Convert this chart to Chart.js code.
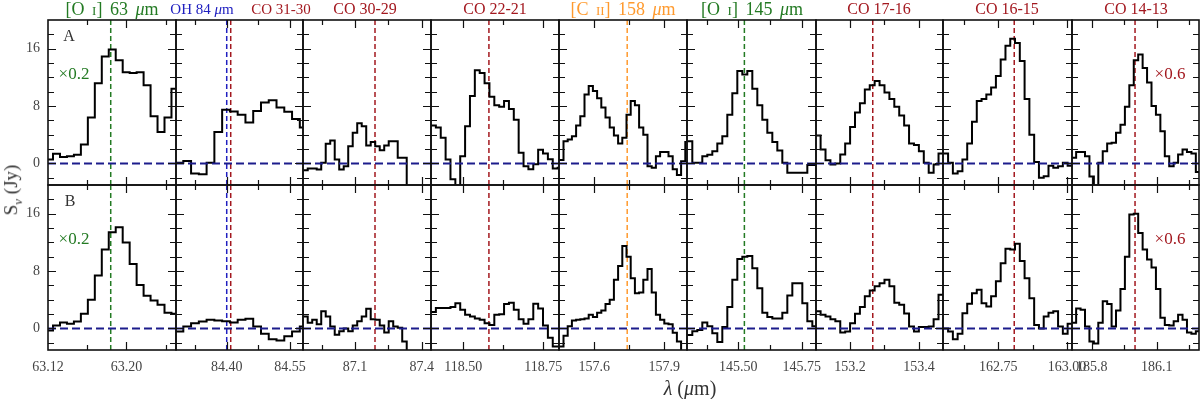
<!DOCTYPE html>
<html>
<head>
<meta charset="utf-8">
<script src="https://cdn.jsdelivr.net/npm/chart.js@4.4.1/dist/chart.umd.min.js"></script>
<style>
  body { margin: 0; background: #fff; }
  #fig { position: relative; width: 1200px; height: 399px; overflow: hidden;
         font-family: 'Liberation Serif', 'DejaVu Serif', serif; color: #333; }
  #fig canvas { position: absolute; }
  .lbl { position: absolute; transform: translate(-50%, -50%); white-space: nowrap; font-size: 16px; }
  .sc { font-variant: small-caps; }
  .wide { word-spacing: 3px; }
</style>
</head>
<body>
<div id="fig"></div>
<script>
// x range of each panel (micron)
const xMin = [63.12, 84.2798, 86.866, 118.399, 157.4487, 145.2975, 153.1014, 162.5488, 185.7091];
const xMax = [63.2506, 84.5808, 87.442, 118.799, 157.9973, 145.8067, 153.4697, 163.0182, 186.2952];

// spectral bins: first edge and width (micron)
const binStart = [63.118, 84.2787, 86.867, 118.399, 157.45, 145.2987, 153.1005, 162.5499, 185.7077];
const binWidth = [0.00711, 0.01841, 0.02025, 0.01522, 0.0180, 0.01974, 0.01425, 0.0174, 0.02046];

// tick marks and tick labels
const tickMajor = [[63.12, 63.20], [84.40, 84.55], [87.1, 87.4], [118.50, 118.75], [157.6, 157.9],
                   [145.50, 145.75], [153.2, 153.4], [162.75, 163.00], [185.8, 186.1]];
const tickLabels = [['63.12', '63.20'], ['84.40', '84.55'], ['87.1', '87.4'], ['118.50', '118.75'], ['157.6', '157.9'],
                    ['145.50', '145.75'], ['153.2', '153.4'], ['162.75', '163.00'], ['185.8', '186.1']];
const tickMinor = [[63.16, 63.24], [84.325, 84.475], [86.95, 87.25], [118.625], [157.75],
                   [145.375, 145.625], [153.3], [162.625, 162.875], [185.95, 186.25]];
const yLabelTicks = [0, 8, 16];
const yAllTicks = [-2, 0, 2, 4, 6, 8, 10, 12, 14, 16, 18];

// flux density (Jy), region A
const fluxA = [
  [0.56, 1.35, 0.9, 1.0, 1.2, 2.65, 6.4, 11.2, 14.9, 15.9, 14.4, 12.7, 12.6, 12.7, 10.9, 6.6, 4.4, 6.4, 10.4],
  [0.1, 0.33, -1.4, -1.5, 0.1, 4.4, 7.5, 7.26, 6.8, 5.7, 7.3, 8.5, 8.8, 7.8, 7.2, 6.2, 5.0],
  [-0.93, -0.7, -0.7, -0.84, 0.1, 2.74, 3.2, 0.56, -0.84, -0.37, 2.4, 4.3, 5.6, 5.2, 2.5, 3.0, 2.4, 1.86, 2.5, 3.1, 3.1, 0.8, 0.8, -4, -4, -4, -4, -4, -4],
  [5.3, 5.0, 3.6, 0.56, -2.2, -3.5, 1.0, 5.2, 9.4, 13.0, 12.6, 11.2, 9.3, 8.1, 7.9, 8.7, 7.6, 6.1, 1.5, -0.4, -0.8, -0.1, 1.9, 1.4, 0.6, -0.7, -0.6],
  [0.5, 3.1, 3.35, 3.8, 5.3, 6.6, 9.6, 10.8, 10.1, 9.1, 7.8, 6.4, 5.0, 3.9, 2.8, 3.6, 6.8, 8.7, 8.1, 5.0, 4.0, -0.4, -0.6, 1.0, 1.6, 1.6, 1.0, -0.8, -1.6, 0.3, 3.0],
  [3.1, 0.1, 0.1, 1.0, 1.2, 1.7, 2.8, 3.8, 6.8, 9.8, 12.9, 12.4, 12.9, 10.4, 8.1, 6.1, 4.3, 3.0, 1.8, 0.1, -1.3, -1.3, -1.3, -1.3, -0.2, -0.2],
  [3.9, 1.95, 0.46, -0.14, 0.0, 1.25, 2.8, 5.1, 7.1, 8.4, 10.3, 10.9, 11.5, 10.9, 9.9, 9.0, 7.9, 6.7, 5.3, 2.8, 2.56, 1.7, 0.1, -1.3, -0.14, 1.4],
  [1.4, 0.1, -1.4, -1.07, 0.56, 2.8, 5.8, 8.7, 9.0, 9.6, 10.6, 12.2, 14.5, 16.4, 17.4, 16.8, 14.3, 9.0, 4.0, 0.2, -2.0, -1.77, -0.3, -0.6, -0.37, 0.1, -0.3],
  [0.8, 1.6, 1.6, 1.0, -1.8, -3.2, 0.1, 1.7, 2.8, 2.9, 4.3, 5.4, 7.9, 10.9, 14.4, 15.2, 13.3, 11.3, 8.0, 6.8, 4.5, 1.0, -0.37, 0.1, 1.25, 1.95, 1.6, 1.4, -1.2]
];

// flux density (Jy), region B
const fluxB = [
  [-0.28, 0.42, 0.84, 0.65, 0.98, 2.05, 4.0, 7.4, 11.0, 13.4, 14.1, 12.0, 9.0, 6.05, 4.56, 3.9, 3.3, 2.2, 2.05],
  [-0.42, 0.28, 0.74, 0.98, 1.2, 1.1, 1.0, 0.84, 1.2, 1.35, 0.28, -0.74, -1.5, -1.67, -1.1, -0.42, 0.28],
  [1.67, 0.8, 1.2, 0.6, 2.4, 1.67, 0.28, -0.88, -0.4, 0.0, -0.4, 0.4, 1.0, 1.67, 2.74, 1.3, 1.2, 0.4, -0.56, 1.0, 0.28, 0.1, -1.8, -4, -4, -4, -4, -4, -4],
  [2.3, 2.84, 2.84, 2.84, 3.0, 3.5, 2.6, 1.9, 1.67, 1.4, 1.2, 0.74, 0.5, 1.9, 2.0, 3.4, 3.6, 2.6, 1.3, 0.65, 1.3, 3.44, 2.8, 0.4, -1.3, -2.5, -2.5],
  [-2.5, -1.0, 0.3, 1.1, 1.2, 1.3, 1.4, 1.9, 1.6, 2.2, 2.5, 3.4, 4.0, 6.8, 8.7, 11.5, 10.0, 7.0, 4.9, 5.0, 6.8, 8.3, 5.0, 1.9, 1.2, 0.7, 0.6, -0.6, -1.8, -3.5, -3.5],
  [-0.9, -0.4, -0.2, 0.84, 0.3, -0.65, -1.9, 0.2, 3.0, 6.8, 9.7, 10.0, 10.1, 8.4, 5.6, 2.2, 1.6, 1.4, 1.4, 2.2, 4.6, 6.3, 6.3, 3.5, 1.0, 0.3],
  [2.4, 1.9, 1.67, 1.3, 1.0, -0.56, -0.42, 0.74, 2.05, 3.0, 4.5, 5.3, 5.9, 6.3, 6.8, 5.9, 3.6, 3.3, 2.1, 0.28, -0.42, 0.2, 0.2, 0.28, 1.3, 4.7],
  [0.0, -0.42, -1.5, -0.74, 2.14, 3.44, 4.9, 5.4, 3.5, 3.07, 4.5, 6.6, 9.1, 11.1, 11.0, 11.8, 9.4, 7.0, 4.2, 0.5, 0.0, 1.67, 2.2, 2.4, 0.28, -0.74, 0.65],
  [0.8, 2.8, 2.6, 0.28, -1.8, -2.1, 0.8, 3.8, 3.4, 0.28, 2.5, 5.5, 10.0, 15.9, 16.0, 13.3, 11.0, 9.6, 8.5, 5.5, 1.5, 0.5, 0.4, 1.0, 1.9, 1.2, -0.56, -0.74, -0.4]
];

// rest wavelengths of the marked lines
const markerWave = [[63.184], [84.400, 84.4095], [87.19], [118.58], [157.741], [145.524], [153.266], [162.808], [186.0]];

const GREEN = '#237a23', BLUE = '#2020c0', RED = '#a3181f', ORANGE = '#ff9a2e';
const markerColor = [[GREEN], [BLUE, RED], [RED], [RED], [ORANGE], [GREEN], [RED], [RED], [RED]];

// page layout
const colLeft = [48, 176, 303, 431, 559, 687, 816, 943, 1072, 1199];
const rowTop = [20, 185, 350];
const M = 40;

Chart.defaults.font.family = "'Liberation Serif', 'DejaVu Serif', serif";
Chart.defaults.font.size = 14;
Chart.defaults.color = '#444';

const frameTicks = {
    id: 'frameTicks',
    afterDatasetsDraw(chart, args, o) {
        const { ctx, chartArea: a, scales: { x, y } } = chart;
        ctx.save();
        ctx.strokeStyle = '#111';
        ctx.lineWidth = 1.2;
        ctx.beginPath();
        const xt = (v, len) => {
            if (v <= x.min || v >= x.max) return;
            const px = Math.round(x.getPixelForValue(v)) + 0.5;
            ctx.moveTo(px, a.top); ctx.lineTo(px, a.top + len);
            ctx.moveTo(px, a.bottom); ctx.lineTo(px, a.bottom - len);
        };
        o.major.forEach(v => xt(v, 8));
        o.minor.forEach(v => xt(v, 5));
        yAllTicks.forEach(v => {
            const len = yLabelTicks.includes(v) ? 8 : 6;
            const py = Math.round(y.getPixelForValue(v)) + 0.5;
            ctx.moveTo(a.left, py); ctx.lineTo(a.left + len, py);
            ctx.moveTo(a.right, py); ctx.lineTo(a.right - len, py);
        });
        ctx.stroke();
        ctx.lineWidth = 1.6;
        ctx.strokeRect(a.left, a.top, a.right - a.left, a.bottom - a.top);
        ctx.restore();
    }
};

const fig = document.getElementById('fig');

for (let r = 0; r < 2; r++) {
    for (let c = 0; c < 9; c++) {
        const w = colLeft[c + 1] - colLeft[c];
        const h = rowTop[r + 1] - rowTop[r];
        const padTop = 4;
        const padBot = r === 1 ? 34 : 4;
        const showX = r === 1, showY = c === 0;
        const cv = document.createElement('canvas');
        cv.width = w + 2 * M;
        cv.height = h + padTop + padBot;
        cv.style.left = (colLeft[c] - M) + 'px';
        cv.style.top = (rowTop[r] - padTop) + 'px';
        fig.appendChild(cv);

        const flux = r === 0 ? fluxA[c] : fluxB[c];
        const pts = flux.map((v, i) => ({ x: binStart[c] + i * binWidth[c], y: v }));
        pts.push({ x: binStart[c] + flux.length * binWidth[c], y: flux[flux.length - 1] });

        const datasets = [
            { data: [{ x: xMin[c], y: 0 }, { x: xMax[c], y: 0 }], borderColor: '#1c1c8c', borderWidth: 1.8, borderDash: [8, 4], order: 0 },
            { data: pts, stepped: true, borderColor: '#000', borderWidth: 2, order: 1 }
        ];
        markerWave[c].forEach((wv, k) => {
            datasets.push({
                data: [{ x: wv, y: -3 }, { x: wv, y: 20 }],
                borderColor: markerColor[c][k], borderWidth: 1.5, borderDash: [5, 3], order: 2
            });
        });

        new Chart(cv, {
            type: 'line',
            data: { datasets: datasets },
            options: {
                responsive: false,
                animation: false,
                layout: { padding: { left: showY ? 0 : M, right: M, top: padTop, bottom: showX ? 0 : padBot } },
                elements: { point: { radius: 0 }, line: { tension: 0, fill: false } },
                plugins: {
                    legend: { display: false },
                    tooltip: { enabled: false },
                    frameTicks: { major: tickMajor[c], minor: tickMinor[c] }
                },
                scales: {
                    x: {
                        type: 'linear', min: xMin[c], max: xMax[c], bounds: 'data',
                        display: showX,
                        grid: { display: false, drawTicks: false },
                        border: { display: false },
                        ticks: { maxRotation: 0, autoSkip: false, padding: 9, callback: (v, i) => tickLabels[c][i] },
                        afterBuildTicks: s => { s.ticks = tickMajor[c].map(v => ({ value: v })); },
                        afterFit: s => {
                            s.height = showX ? padBot : 0;
                            s.paddingLeft = 0; s.paddingRight = 0;
                        }
                    },
                    y: {
                        type: 'linear', min: -3, max: 20,
                        display: showY,
                        grid: { display: false, drawTicks: false },
                        border: { display: false },
                        ticks: { padding: 8, callback: v => String(v) },
                        afterBuildTicks: s => { s.ticks = yLabelTicks.map(v => ({ value: v })); },
                        afterFit: s => {
                            s.width = showY ? M : 0;
                            s.paddingTop = 0; s.paddingBottom = 0;
                        }
                    }
                }
            },
            plugins: [frameTicks]
        });
    }
}

// text annotations
const notes = [
    { html: '[O <span class="sc">i</span>] 63 <i>μ</i>m', x: 112, y: 9, color: GREEN, size: 18, cls: 'wide' },
    { html: 'OH 84 <i>μ</i>m', x: 202, y: 9, color: BLUE, size: 15 },
    { html: 'CO 31-30', x: 281, y: 9, color: RED, size: 15 },
    { html: 'CO 30-29', x: 365, y: 9, color: RED },
    { html: 'CO 22-21', x: 495, y: 9, color: RED },
    { html: '[C <span class="sc">ii</span>] 158 <i>μ</i>m', x: 623, y: 9, color: ORANGE, size: 18, cls: 'wide' },
    { html: '[O <span class="sc">i</span>] 145 <i>μ</i>m', x: 752, y: 9, color: GREEN, size: 18, cls: 'wide' },
    { html: 'CO 17-16', x: 879, y: 9, color: RED },
    { html: 'CO 16-15', x: 1007, y: 9, color: RED },
    { html: 'CO 14-13', x: 1136, y: 9, color: RED },
    { html: 'A', x: 69, y: 36, color: '#333' },
    { html: 'B', x: 70, y: 201, color: '#333' },
    { html: '×0.2', x: 74, y: 74, color: GREEN, size: 17 },
    { html: '×0.2', x: 74, y: 239, color: GREEN, size: 17 },
    { html: '×0.6', x: 1170, y: 74, color: RED, size: 17 },
    { html: '×0.6', x: 1170, y: 239, color: RED, size: 17 },
    { html: '<i>λ</i> (<i>μ</i>m)', x: 690, y: 388, color: '#333', size: 20 }
];
notes.forEach(n => {
    const d = document.createElement('div');
    d.className = 'lbl' + (n.cls ? ' ' + n.cls : '');
    d.innerHTML = n.html;
    d.style.left = n.x + 'px';
    d.style.top = n.y + 'px';
    d.style.color = n.color;
    if (n.size) d.style.fontSize = n.size + 'px';
    fig.appendChild(d);
});

const yt = document.createElement('div');
yt.className = 'lbl';
yt.innerHTML = 'S<sub style="font-size:13px"><i>ν</i></sub> (Jy)';
yt.style.left = '13px';
yt.style.top = '190px';
yt.style.fontSize = '19px';
yt.style.transform = 'translate(-50%, -50%) rotate(-90deg)';
fig.appendChild(yt);
</script>
</body>
</html>
